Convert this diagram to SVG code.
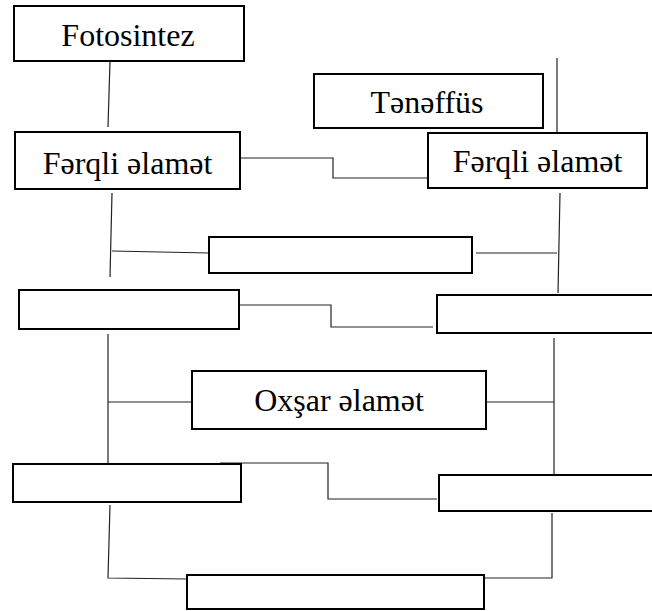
<svg xmlns="http://www.w3.org/2000/svg" width="652" height="611" viewBox="0 0 652 611">
<style>
.box{fill:#fff;stroke:#000;stroke-width:2}
.ln{fill:none;stroke:#222;stroke-width:1.2}
text{font-family:'Liberation Serif','Times New Roman',serif;font-size:32px;fill:#000;text-anchor:middle}
</style>
<rect width="652" height="611" fill="#fff"/>
<g id="connectors">
<path class="ln" d="M110,61 L108,127"/>
<path class="ln" d="M240,158 L333,158 L333,178 L428,178"/>
<path class="ln" d="M557,58 L557,132"/>
<path class="ln" d="M112,193 L110,277"/>
<path class="ln" d="M112,251 L209,253"/>
<path class="ln" d="M560,193 L558,293"/>
<path class="ln" d="M476,253 L557,253"/>
<path class="ln" d="M239,305 L331,305 L331,327 L433,327"/>
<path class="ln" d="M108,334 L108,463"/>
<path class="ln" d="M108,402 L200,402"/>
<path class="ln" d="M554,338 L554,475"/>
<path class="ln" d="M487,402 L554,402"/>
<path class="ln" d="M220,463 L328,463 L328,499 L437,499"/>
<path class="ln" d="M110,505 L108,578 L188,579"/>
<path class="ln" d="M552,513 L552,578 L485,578"/>
</g>
<g id="fotosintez">
<rect class="box" x="14" y="6" width="230" height="55"/>
<text x="128" y="46">Fotosintez</text>
</g>
<g id="teneffus">
<rect class="box" x="314" y="74" width="229" height="54"/>
<text x="427" y="113">Tənəffüs</text>
</g>
<g id="ferqli-left">
<rect class="box" x="15" y="132" width="225" height="57"/>
<text x="127.5" y="174">Fərqli əlamət</text>
</g>
<g id="ferqli-right">
<rect class="box" x="428" y="133" width="219" height="55"/>
<text x="537.5" y="172">Fərqli əlamət</text>
</g>
<g id="empty-top-center">
<rect class="box" x="209" y="237" width="263" height="36"/>
</g>
<g id="empty-left-2">
<rect class="box" x="19" y="290" width="220" height="39"/>
</g>
<g id="empty-right-2">
<rect class="box" x="437" y="295" width="220" height="38"/>
</g>
<g id="oxsar">
<rect class="box" x="192" y="371" width="294" height="58"/>
<text x="339" y="411">Oxşar əlamət</text>
</g>
<g id="empty-left-3">
<rect class="box" x="13" y="464" width="228" height="38"/>
</g>
<g id="empty-right-3">
<rect class="box" x="439" y="475" width="220" height="36"/>
</g>
<g id="empty-bottom">
<rect class="box" x="187" y="575" width="297" height="34"/>
</g>
</svg>
